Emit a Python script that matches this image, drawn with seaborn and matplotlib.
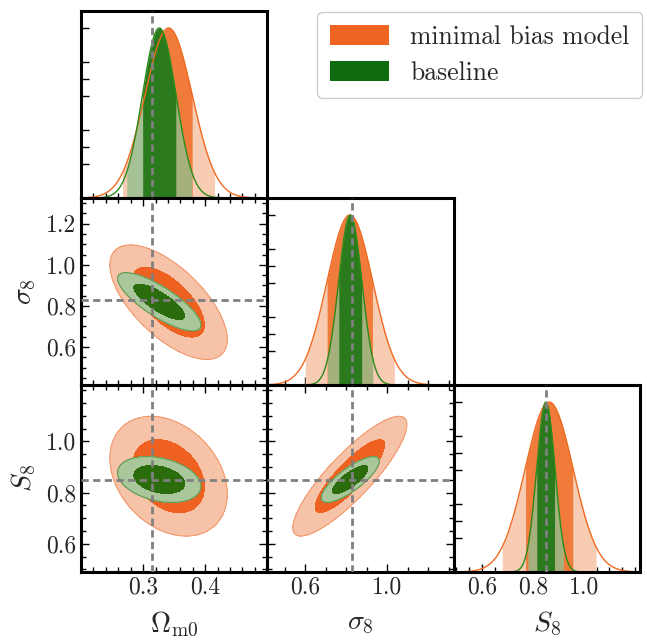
import numpy as np
import matplotlib
matplotlib.use("Agg")
import matplotlib.pyplot as plt
from matplotlib.ticker import FixedLocator, MultipleLocator
from matplotlib.patches import Patch
import seaborn as sns

# parameters of the triangle plot
axis_labels = [r"$\Omega_{\rm m0}$", r"$\sigma_8$", r"$S_8$"]
fiducial = [0.315, 0.83, 0.85]
limits = [(0.2, 0.5), (0.415, 1.325), (0.49, 1.22)]

# posterior summaries (mean, std, pair correlations)
minbias_mean = [0.341, 0.818, 0.864]
minbias_std = [0.038, 0.112, 0.094]
minbias_corr = {(0, 1): -0.65, (0, 2): -0.3, (1, 2): 0.86}

baseline_mean = [0.326, 0.820, 0.851]
baseline_std = [0.027, 0.057, 0.036]
baseline_corr = {(0, 1): -0.8, (0, 2): -0.3, (1, 2): 0.8}

legend_labels = ["minimal bias model", "baseline"]

# ticks
xtick_major = [[0.3, 0.4], [0.6, 1.0], [0.6, 0.8, 1.0]]
xtick_minor = [0.02, 0.1, 0.05]
ytick_major = [None, [0.6, 0.8, 1.0, 1.2], [0.6, 0.8, 1.0]]
ytick_minor = [None, 0.05, 0.05]
diag_yticks = [0.2, 0.3, 0.4, 0.6, 0.7, 0.8, 1.0]

models = [
    dict(mean=minbias_mean, std=minbias_std, corr=minbias_corr,
         dark2d="#EE6120", light2d="#F7C3A8", edge2d="#F29A6E",
         dark1d="#F07B3A", light1d="#F8CBB3", light1d_alpha=1.0,
         line="#F06A22", legend="#EF6423"),
    dict(mean=baseline_mean, std=baseline_std, corr=baseline_corr,
         dark2d="#2B6D0C", light2d="#A9C79B", edge2d="#5E9A4C",
         dark1d="#2B7B1E", light1d="#93BF8F", light1d_alpha=0.8,
         line="#2A8A1A", legend="#0E6B0E"),
]

sns.set_theme(style="white")
plt.rcParams["font.family"] = "serif"
plt.rcParams["font.serif"] = ["cmr10", "DejaVu Serif"]
plt.rcParams["mathtext.fontset"] = "cm"
plt.rcParams["axes.formatter.use_mathtext"] = True
plt.rcParams["axes.unicode_minus"] = False

fig = plt.figure(figsize=(6.47, 6.42), dpi=100)
gs = fig.add_gridspec(3, 3, left=81 / 647, right=640 / 647,
                      bottom=1 - 572 / 642, top=1 - 11 / 642,
                      wspace=0, hspace=0)

fid_style = dict(color="#808080", lw=2.0, ls=(0, (2.6, 1.6)), zorder=10)
lev68 = np.exp(-2.30 / 2)
lev95 = np.exp(-6.18 / 2)


def style_axis(ax, i, j, diag):
    ax.set_xlim(limits[j])
    ax.xaxis.set_major_locator(FixedLocator(xtick_major[j]))
    ax.xaxis.set_minor_locator(MultipleLocator(xtick_minor[j]))
    if diag:
        ax.set_ylim(0, 1.1)
        ax.yaxis.set_major_locator(FixedLocator(diag_yticks))
        ax.tick_params(which="both", direction="in", top=False, right=False,
                       left=True, bottom=True, labelleft=False)
    else:
        ax.set_ylim(limits[i])
        ax.yaxis.set_major_locator(FixedLocator(ytick_major[i]))
        ax.yaxis.set_minor_locator(MultipleLocator(ytick_minor[i]))
        ax.tick_params(which="both", direction="in", top=True, right=True,
                       left=True, bottom=True)
    ax.tick_params(which="major", length=6, width=1.0, labelsize=17, color="black")
    ax.tick_params(which="minor", length=3.5, width=1.0, color="black")
    ax.xaxis.set_major_formatter(plt.FuncFormatter(lambda v, p: f"{v:.1f}"))
    ax.yaxis.set_major_formatter(plt.FuncFormatter(lambda v, p: f"{v:.1f}"))
    if i < 2:
        ax.tick_params(labelbottom=False)
    else:
        ax.set_xlabel(axis_labels[j], fontsize=20, labelpad=8)
    if j > 0:
        ax.tick_params(labelleft=False)
    elif not diag:
        ax.set_ylabel(axis_labels[i], fontsize=20, labelpad=6)
    for s in ax.spines.values():
        s.set_linewidth(2.2)
        s.set_color("black")
        s.set_visible(True)


for i in range(3):
    for j in range(3):
        if j > i:
            continue
        ax = fig.add_subplot(gs[i, j])
        ax.set_facecolor("white")
        if i == j:
            x = np.linspace(limits[j][0], limits[j][1], 400)
            curves = []
            for m in models:
                mu, sd = m["mean"][j], m["std"][j]
                pdf = np.exp(-0.5 * ((x - mu) / sd) ** 2)
                curves.append(pdf)
                ax.fill_between(x, 0, pdf, where=np.abs(x - mu) <= 1.96 * sd,
                                color=m["light1d"], alpha=m["light1d_alpha"], lw=0)
                ax.fill_between(x, 0, pdf, where=np.abs(x - mu) <= sd,
                                color=m["dark1d"], lw=0)
            for m, pdf in zip(models, curves):
                sns.lineplot(x=x, y=pdf, ax=ax, color=m["line"], lw=1.0)
            ax.axvline(fiducial[j], **fid_style)
        else:
            x = np.linspace(limits[j][0], limits[j][1], 300)
            y = np.linspace(limits[i][0], limits[i][1], 300)
            X, Y = np.meshgrid(x, y)
            for m in models:
                mx, my = m["mean"][j], m["mean"][i]
                sx, sy = m["std"][j], m["std"][i]
                r = m["corr"][(j, i)]
                dx, dy = (X - mx) / sx, (Y - my) / sy
                q = (dx ** 2 - 2 * r * dx * dy + dy ** 2) / (1 - r ** 2)
                dens = np.exp(-0.5 * q)
                ax.contourf(X, Y, dens, levels=[lev95, lev68, 1.01],
                            colors=[m["light2d"], m["dark2d"]])
                ax.contour(X, Y, dens, levels=[lev95], colors=[m["edge2d"]],
                           linewidths=0.8)
            ax.axvline(fiducial[j], **fid_style)
            ax.axhline(fiducial[i], **fid_style)
        style_axis(ax, i, j, i == j)

handles = [Patch(facecolor=m["legend"], edgecolor="none") for m in models]
fig.legend(handles, legend_labels, loc="upper right",
           bbox_to_anchor=(642 / 647, 1 - 12 / 642), borderaxespad=0,
           fontsize=18.5, frameon=True,
           fancybox=True, edgecolor="#cccccc", framealpha=1,
           handlelength=2.3, handleheight=0.85, handletextpad=0.8,
           borderpad=0.5, labelspacing=0.45)

fig.savefig("out.png", dpi=100)
